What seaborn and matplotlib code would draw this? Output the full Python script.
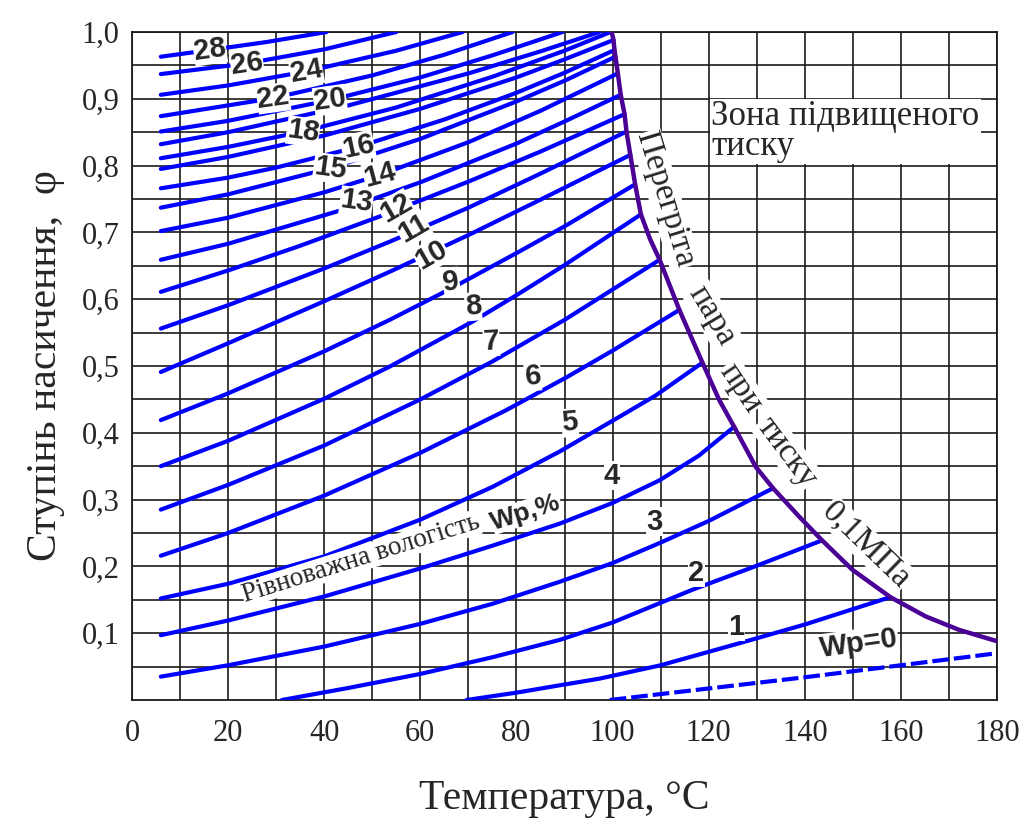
import numpy as np
import pandas as pd
import matplotlib
matplotlib.use("Agg")
import matplotlib.pyplot as plt
import seaborn as sns

# ---------------- data ----------------
X_TICKS = [0, 20, 40, 60, 80, 100, 120, 140, 160, 180]
Y_TICKS = [0.1, 0.2, 0.3, 0.4, 0.5, 0.6, 0.7, 0.8, 0.9, 1.0]
Y_TICK_LABELS = ["0,1", "0,2", "0,3", "0,4", "0,5", "0,6", "0,7", "0,8", "0,9", "1,0"]

# saturation curve (superheated steam at 0.1 MPa)
SAT_T = [99.8, 100.2, 100.4, 100.6, 101.1, 101.7, 102.5, 102.9, 103.7, 104.7, 105.9,
         107.8, 109.8, 113.9, 118.7, 122.2, 125.3, 129.8, 133.4, 138.9, 143.6, 149.9,
         157.8, 165.2, 172.1, 180.0]
SAT_PHI = [1.0, 0.988, 0.973, 0.963, 0.938, 0.906, 0.877, 0.851, 0.816, 0.772, 0.727,
           0.69, 0.659, 0.584, 0.505, 0.449, 0.409, 0.349, 0.317, 0.274, 0.239, 0.195,
           0.154, 0.125, 0.105, 0.088]

# equilibrium moisture lines Wp (%)
W28_T = [6, 16.2, 28, 40.5]
W28_PHI = [0.963, 0.973, 0.985, 1.0]
W26_T = [6, 23.9, 40, 55]
W26_PHI = [0.937, 0.953, 0.974, 1.0]
W24_T = [6, 20, 36.3, 55, 68.8]
W24_PHI = [0.906, 0.920, 0.941, 0.972, 1.0]
W22_T = [6, 29.4, 50, 65, 79.2]
W22_PHI = [0.874, 0.901, 0.935, 0.966, 1.0]
W20_T = [6, 20, 41.2, 60, 75, 89.6]
W20_PHI = [0.851, 0.867, 0.898, 0.932, 0.965, 1.0]
W19_T = [6, 20, 45, 70, 85, 97.3]
W19_PHI = [0.832, 0.850, 0.890, 0.938, 0.971, 1.0]
W18_T = [6, 20, 35.6, 55, 75, 90, 99.6]
W18_PHI = [0.811, 0.828, 0.851, 0.887, 0.933, 0.972, 1.0]
W17_T = [6, 20, 40, 60, 80, 90, 100.2]
W17_PHI = [0.795, 0.813, 0.845, 0.885, 0.932, 0.959, 0.988]
W16_T = [6, 20, 30, 47, 65, 80, 90, 100.4]
W16_PHI = [0.766, 0.782, 0.797, 0.828, 0.869, 0.909, 0.939, 0.973]
W15_T = [6, 20, 41.2, 60, 80, 90, 100.6]
W15_PHI = [0.737, 0.757, 0.796, 0.840, 0.896, 0.927, 0.963]
W14_T = [6, 20, 40, 51.6, 70, 85, 101.1]
W14_PHI = [0.702, 0.722, 0.760, 0.786, 0.835, 0.882, 0.938]
W13_T = [6, 20, 43.9, 60, 80, 90, 101.7]
W13_PHI = [0.659, 0.683, 0.734, 0.775, 0.833, 0.866, 0.906]
W12_T = [6, 20, 35, 51.6, 70, 85, 102.5]
W12_PHI = [0.611, 0.643, 0.680, 0.724, 0.776, 0.821, 0.877]
W11_T = [6, 20, 40, 53.6, 70, 85, 102.9]
W11_PHI = [0.556, 0.591, 0.646, 0.686, 0.737, 0.788, 0.851]
W10_T = [6, 20, 40, 53.6, 70, 85, 103.7]
W10_PHI = [0.491, 0.534, 0.597, 0.641, 0.696, 0.749, 0.816]
W9_T = [6, 20, 40, 53.6, 66.4, 80, 90, 104.7]
W9_PHI = [0.419, 0.459, 0.522, 0.569, 0.616, 0.669, 0.709, 0.772]
W8_T = [6, 20, 40, 53.6, 71, 80, 90, 105.9]
W8_PHI = [0.350, 0.388, 0.451, 0.499, 0.567, 0.606, 0.651, 0.727]
W7_T = [6, 20, 40, 60, 74.8, 90, 109.8]
W7_PHI = [0.285, 0.322, 0.381, 0.450, 0.506, 0.569, 0.659]
W6_T = [6, 20, 40, 60, 77.9, 90.4, 100, 113.9]
W6_PHI = [0.216, 0.250, 0.306, 0.370, 0.434, 0.483, 0.523, 0.584]
W5_T = [6, 20, 40, 60, 75, 89, 100, 109, 118.7]
W5_PHI = [0.152, 0.174, 0.215, 0.270, 0.319, 0.372, 0.418, 0.456, 0.505]
W4_T = [6, 20, 40, 60, 75, 89, 100, 109.8, 118, 125.3]
W4_PHI = [0.097, 0.119, 0.155, 0.197, 0.231, 0.264, 0.295, 0.329, 0.366, 0.409]
W3_T = [6, 20, 40, 60, 75, 89, 100, 109.8, 120, 133.4]
W3_PHI = [0.035, 0.052, 0.080, 0.114, 0.144, 0.177, 0.205, 0.235, 0.268, 0.317]
W2_T = [31.2, 45, 60, 75, 89, 100, 116.6, 130, 143.6]
W2_PHI = [0.0, 0.018, 0.039, 0.064, 0.090, 0.116, 0.165, 0.201, 0.239]
W1_T = [69.6, 80, 89, 97.3, 110, 126.4, 140, 157.8]
W1_PHI = [0.0, 0.011, 0.022, 0.032, 0.052, 0.085, 0.113, 0.154]
W0_T = [99.4, 140, 180]
W0_PHI = [0.0, 0.034, 0.070]

WP_VALUES = [28, 26, 24, 22, 20, 19, 18, 17, 16, 15, 14, 13, 12, 11, 10, 9, 8, 7, 6, 5, 4, 3, 2, 1]
WP_T = [W28_T, W26_T, W24_T, W22_T, W20_T, W19_T, W18_T, W17_T, W16_T, W15_T, W14_T, W13_T,
        W12_T, W11_T, W10_T, W9_T, W8_T, W7_T, W6_T, W5_T, W4_T, W3_T, W2_T, W1_T]
WP_PHI = [W28_PHI, W26_PHI, W24_PHI, W22_PHI, W20_PHI, W19_PHI, W18_PHI, W17_PHI, W16_PHI,
          W15_PHI, W14_PHI, W13_PHI, W12_PHI, W11_PHI, W10_PHI, W9_PHI, W8_PHI, W7_PHI,
          W6_PHI, W5_PHI, W4_PHI, W3_PHI, W2_PHI, W1_PHI]

# line labels
LBL_TEXT = ["28", "26", "24", "22", "20", "18", "16", "15", "14", "13", "12", "11", "10",
            "9", "8", "7", "6", "5", "4", "3", "2", "1", "Wp=0"]
LBL_T = [16.2, 23.9, 36.3, 29.4, 41.2, 35.6, 47.0, 41.2, 51.6, 46.7, 55.0, 58.5, 62.3,
         66.4, 71.0, 74.8, 83.4, 91.1, 99.9, 108.7, 117.4, 125.8, 151.3]
LBL_PHI = [0.973, 0.953, 0.941, 0.901, 0.898, 0.851, 0.828, 0.796, 0.786, 0.746, 0.736,
           0.706, 0.666, 0.626, 0.589, 0.536, 0.484, 0.415, 0.336, 0.267, 0.190, 0.109, 0.085]
LBL_ROT = [8, 8, 10, 8, 8, -8, 12, -8, 15, -8, 30, 30, 30, 8, 5, 3, 5, 5, 0, 0, 0, 0, 8]

# ---------------- figure ----------------
sns.set_theme(style="white")
plt.rcParams["font.family"] = ["Liberation Serif", "DejaVu Serif"]

W, H = 1036, 818
fig = plt.figure(figsize=(W / 100, H / 100), dpi=100)
L, R, T, B = 132, 997, 32, 700
ax = fig.add_axes([L / W, 1 - B / H, (R - L) / W, (B - T) / H])

ax.set_xlim(0, 180)
ax.set_ylim(0, 1.0)

ax.set_xticks(X_TICKS)
ax.set_xticklabels([str(v) for v in X_TICKS])
ax.set_xticks(np.arange(0, 181, 10), minor=True)
ax.set_yticks(Y_TICKS)
ax.set_yticklabels(Y_TICK_LABELS)
ax.set_yticks(np.arange(0.05, 1.0, 0.1), minor=True)
ax.grid(True, which="both", color="#1a1a1a", lw=1.2)
ax.set_axisbelow(True)
ax.tick_params(which="both", length=0)
ax.tick_params(axis="x", labelsize=22, pad=14)
ax.tick_params(axis="y", labelsize=22, pad=9)
for sp in ax.spines.values():
    sp.set_linewidth(1.3)
    sp.set_color("#1a1a1a")

rows = []
for wp, ts, ps in zip(WP_VALUES, WP_T, WP_PHI):
    for t, p in zip(ts, ps):
        rows.append((wp, t, p))
df = pd.DataFrame(rows, columns=["wp", "T", "phi"])

sns.lineplot(data=df, x="T", y="phi", units="wp", estimator=None, sort=False,
             color="#0000ff", lw=3.0, ax=ax, zorder=3)
sns.lineplot(x=W0_T, y=W0_PHI, sort=False, color="#0000ff", lw=3.0, ax=ax,
             zorder=3, dashes=False, linestyle=(0, (4, 1.2)))
sns.lineplot(x=SAT_T, y=SAT_PHI, sort=False, color="#4b0096", lw=3.2, ax=ax, zorder=4)

ax.set_xlabel("Температура, °C", fontsize=30, labelpad=22)
ax.set_ylabel("Ступінь насичення,  φ", fontsize=30)
ax.yaxis.set_label_coords(-0.078, 0.5)

num_font = ["Liberation Sans Narrow", "Liberation Sans", "DejaVu Sans"]
for txt, t, p, r in zip(LBL_TEXT, LBL_T, LBL_PHI, LBL_ROT):
    ax.text(t, p, txt, rotation=r, ha="center", va="center", fontsize=21,
            fontweight="bold", family=num_font, zorder=6,
            bbox=dict(fc="white", ec="none", pad=0.2))

# curved caption along the saturation line
CAPTION_WORDS = ["Перегріта", "пара", "при", "тиску", "0,1МПа"]
CAPTION_T = [111.0, 120.6, 126.6, 136.3, 152.8]
CAPTION_PHI = [0.749, 0.576, 0.467, 0.371, 0.232]
CAPTION_ROT = [-73, -59, -56, -53, -44]
for w_, t, p, r in zip(CAPTION_WORDS, CAPTION_T, CAPTION_PHI, CAPTION_ROT):
    ax.text(t, p, w_, rotation=r, rotation_mode="anchor", ha="center", va="center",
            fontsize=24, zorder=6, bbox=dict(fc="white", ec="none", pad=0.5))

ax.text(120.5, 0.851, "Зона підвищеного\nтиску", fontsize=25, ha="left", va="center",
        linespacing=0.88, zorder=6, bbox=dict(fc="white", ec="none", pad=1))

ax.text(47.6, 0.212, "Рівноважна вологість", rotation=17.5, rotation_mode="anchor",
        ha="center", va="center", fontsize=19.5, zorder=6,
        bbox=dict(fc="white", ec="none", pad=0.1))
ax.text(82.0, 0.281, "Wp,%", rotation=17.5, rotation_mode="anchor", ha="center",
        va="center", fontsize=19, fontweight="bold", family=num_font, zorder=6,
        bbox=dict(fc="white", ec="none", pad=0.1))

fig.savefig("out.png", dpi=100)
